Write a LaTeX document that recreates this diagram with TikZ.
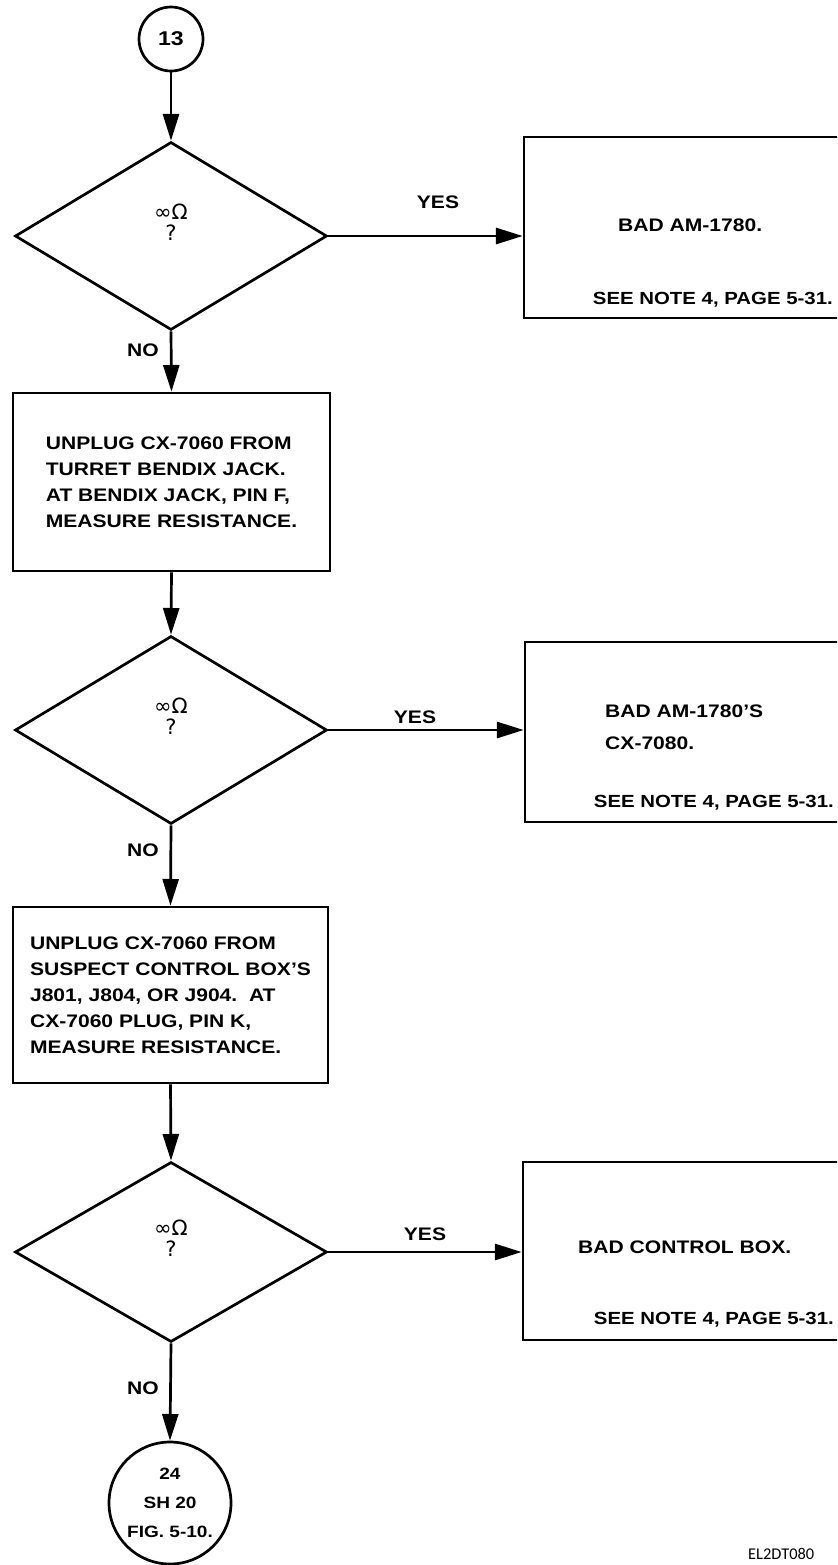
\documentclass[tikz,border=0pt]{standalone}
\usepackage{fontspec}
\setmainfont{Liberation Sans}[FakeStretch=1.16]
\newfontfamily\symfont{DejaVu Sans}
\newfontfamily\codefont{Carlito}
\usetikzlibrary{shapes.geometric,arrows.meta,calc}
\begin{document}
\begin{tikzpicture}[x=0.03cm,y=-0.03cm,
  ln/.style={line width=2.3pt},
  arr/.style={ln,-{Triangle[length=0.8cm,width=0.48cm]}},
  box/.style={draw,ln,rectangle,inner sep=0pt},
  dec/.style={draw,ln,diamond,inner sep=0pt,minimum width=9.36cm,minimum height=5.64cm},
  conn/.style={draw,ln,circle,inner sep=0pt},
  txt/.style={font={\fontsize{15.5}{22.2}\selectfont\bfseries},align=left,inner sep=0pt},
  lbl/.style={font={\fontsize{15.5}{18}\selectfont\bfseries},inner sep=0pt},
  note/.style={font={\fontsize{15}{18}\selectfont\bfseries},inner sep=0pt,anchor=east},
  dtxt/.style={font={\symfont\fontsize{18}{18}\selectfont},align=center,inner sep=0pt},
]
\path[use as bounding box] (0,0) rectangle (837,1565);
\clip (0,0) rectangle (837,1565);

% nodes
\node[conn,minimum size=1.92cm,font={\fontsize{17}{20}\selectfont\bfseries}] (c13) at (171,39) {13};
\node[dec] (d1) at (171,236) {};
\node[dtxt] (q1) at (171,222) {∞Ω\\?};
\node[box,minimum width=10.08cm,minimum height=5.43cm] (b1) at (692,227.5) {};
\node[box,txt,minimum width=9.51cm,minimum height=5.34cm] (b2) at (171.5,482)
  {UNPLUG CX-7060 FROM\\TURRET BENDIX JACK.\\AT BENDIX JACK, PIN F,\\MEASURE RESISTANCE.};
\node[dec] (d2) at (171,730) {};
\node[dtxt] (q2) at (171,716) {∞Ω\\?};
\node[box,minimum width=10.05cm,minimum height=5.4cm] (b4) at (692.5,732) {};
\node[box,txt,minimum width=9.45cm,minimum height=5.28cm] (b5) at (170.5,995)
  {UNPLUG CX-7060 FROM\\SUSPECT CONTROL BOX'S\\J801, J804, OR J904.\ \ AT\\CX-7060 PLUG, PIN K,\\MEASURE RESISTANCE.};
\node[dec,minimum height=5.4cm] (d3) at (171,1252) {};
\node[dtxt] (q3) at (171,1238) {∞Ω\\?};
\node[box,minimum width=10.11cm,minimum height=5.34cm] (b6) at (691.5,1251) {};
\node[conn,minimum size=3.66cm,align=center,font={\fontsize{14}{24.5}\selectfont\bfseries}] (c24) at (170,1503)
  {24\\SH 20\\FIG. 5-10.};

% texts in result boxes
\node[txt,anchor=west] (t1) at (618,225) {BAD AM-1780.};
\node[note] (n1) at (833,300) {SEE NOTE 4, PAGE 5-31.};
\node[txt,anchor=west,font={\fontsize{15.5}{27}\selectfont\bfseries}] (t2) at (605,727) {BAD AM-1780'S\\CX-7080.};
\node[note] (n2) at (834,803) {SEE NOTE 4, PAGE 5-31.};
\node[txt,anchor=west] (t3) at (578,1247) {BAD CONTROL BOX.};
\node[note] (n3) at (834,1320) {SEE NOTE 4, PAGE 5-31.};

% connector labels
\node[lbl] (yes1) at (438,202) {YES};
\node[lbl] (no1) at (143,350) {NO};
\node[lbl] (yes2) at (415,717) {YES};
\node[lbl] (no2) at (143,850) {NO};
\node[lbl] (yes3) at (425,1234) {YES};
\node[lbl] (no3) at (143,1388) {NO};

\node[font={\codefont\fontsize{14}{16}\selectfont},anchor=west,inner sep=0pt] (code) at (748,1554) {EL2DT080};

% connectors
\draw[arr] (c13.south) -- (d1.north);
\draw[arr] (d1.east) -- (d1.east -| b1.west);
\draw[arr] (d1.south) -- (b2.north);
\draw[arr] (b2.south) -- (d2.north);
\draw[arr] (d2.east) -- (d2.east -| b4.west);
\draw[arr] (d2.south) -- (b5.north);
\draw[arr] (b5.south) -- (d3.north);
\draw[arr] (d3.east) -- (d3.east -| b6.west);
\draw[arr] (d3.south) -- (c24.north);
\end{tikzpicture}
\end{document}
